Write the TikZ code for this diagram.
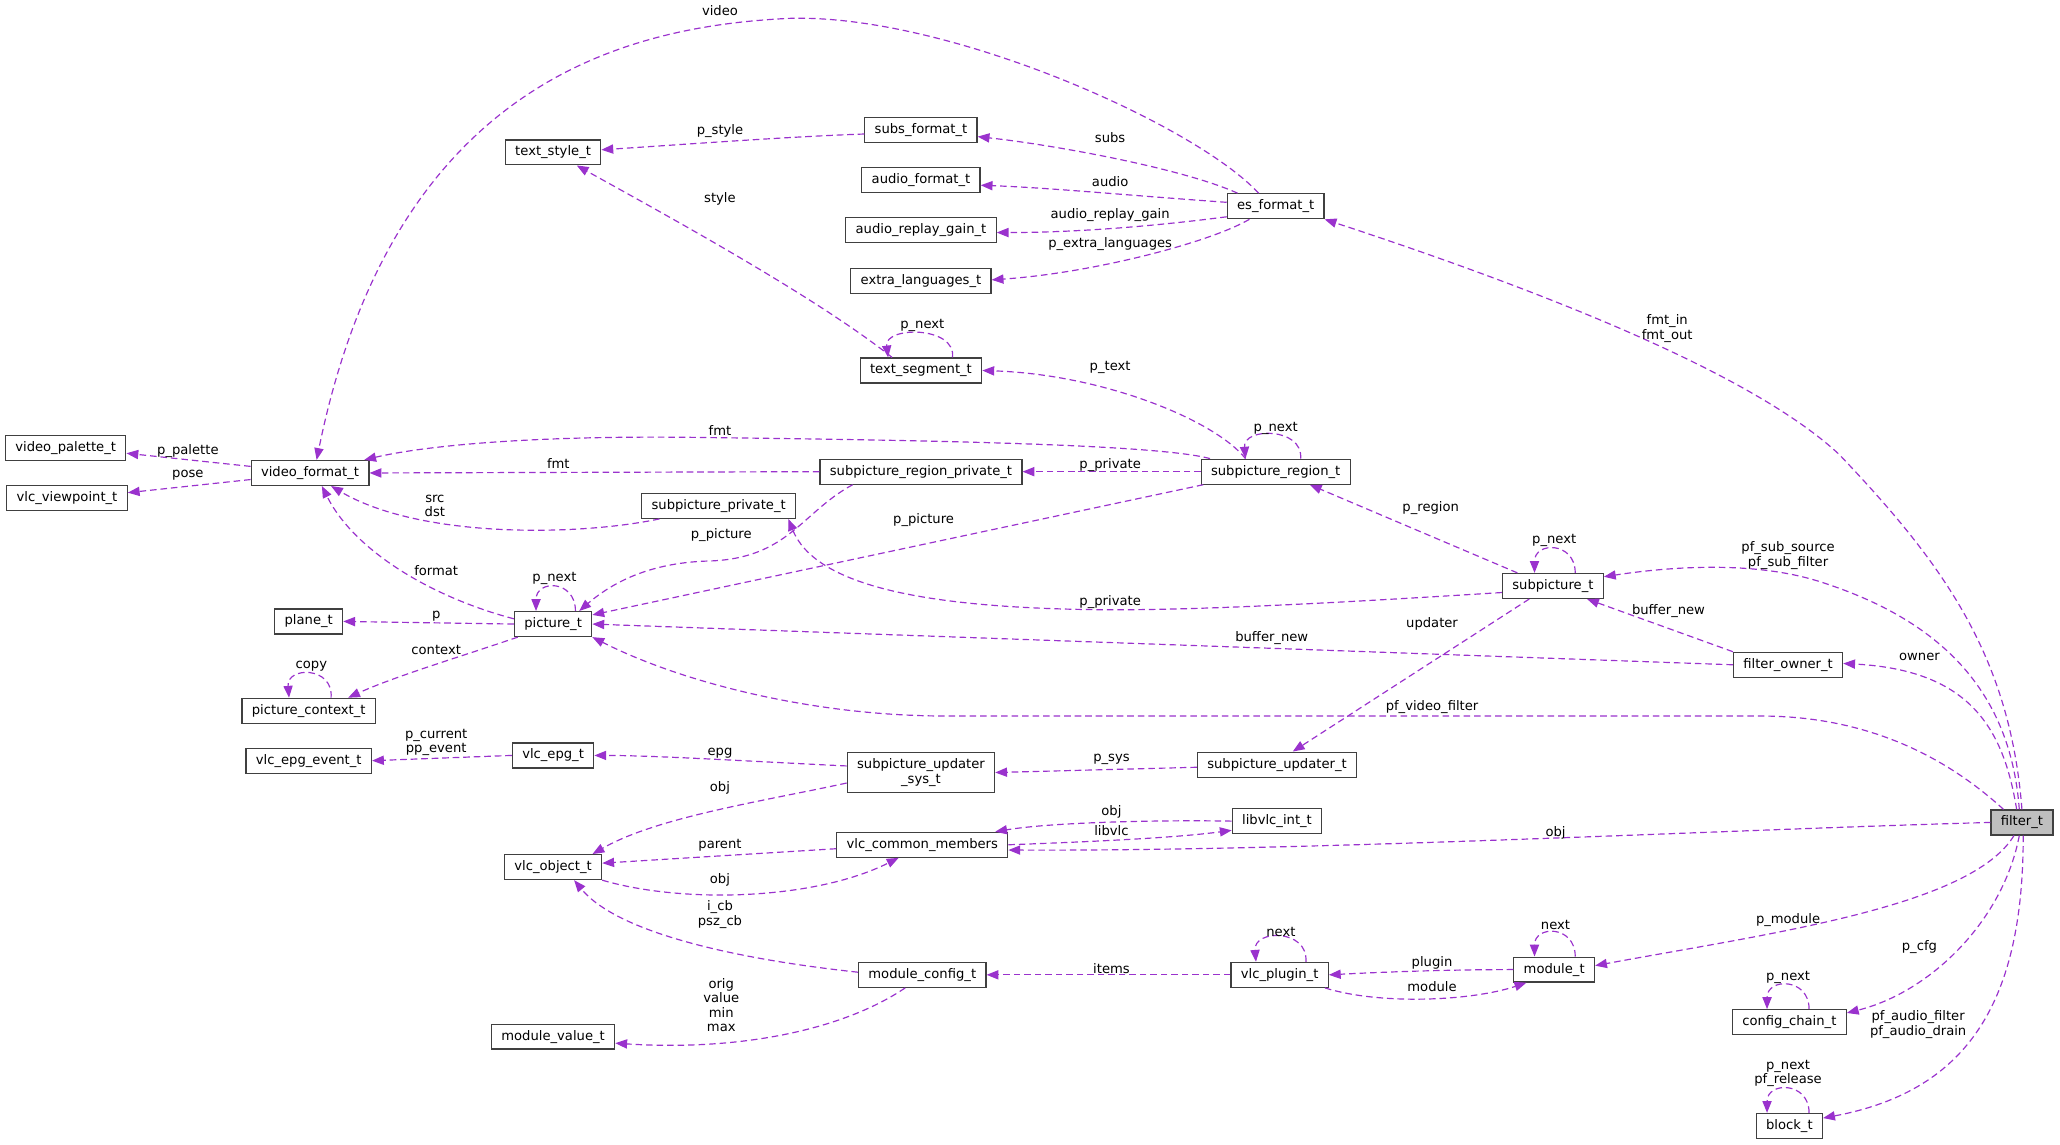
\documentclass[tikz,border=0pt]{standalone}
\usepackage{fontspec}
\setmainfont{DejaVu Sans}
\usetikzlibrary{arrows.meta}
\definecolor{orchid}{HTML}{9A32CD}
\definecolor{boxline}{HTML}{404040}
\definecolor{boxfill}{HTML}{BFBFBF}

\begin{document}
\begin{tikzpicture}[x=1pt,y=-1pt,
  struct/.style={draw=boxline,line width=0.9pt,fill=white,inner xsep=7.5pt,inner ysep=0pt,minimum height=19pt,font=\fontsize{10}{11}\selectfont},
  memberref/.style={draw=orchid,line width=0.9pt,dash pattern=on 5pt off 3pt,-{Triangle[length=9pt,width=7pt]}},
  lbl/.style={inner sep=0pt,align=center,font=\fontsize{10}{11}\selectfont}]
%set diagram left start at 0, and has height of 871
\useasboundingbox (0,0) rectangle (1568,871);

% Nodes
\node [struct] (videopal) at (50,341) {video\_palette\_t};
\node [struct] (viewpoint) at (51,379) {vlc\_viewpoint\_t};
\node [struct] (videofmt) at (236,360) {video\_format\_t};
\node [struct] (textstyle) at (421,116) {text\_style\_t};
\node [struct] (subsfmt) at (701,99) {subs\_format\_t};
\node [struct] (audiofmt) at (701,137) {audio\_format\_t};
\node [struct] (replaygain) at (701,175) {audio\_replay\_gain\_t};
\node [struct] (extralang) at (701,214) {extra\_languages\_t};
\node [struct] (esfmt) at (971,157) {es\_format\_t};
\node [struct] (textseg) at (701,282) {text\_segment\_t};
\node [struct] (spuregion) at (971,359) {subpicture\_region\_t};
\node [struct] (spuregionpriv) at (701,359) {subpicture\_region\_private\_t};
\node [struct] (spupriv) at (547,385) {subpicture\_private\_t};
\node [struct] (picture) at (421,475) {picture\_t};
\node [struct] (plane) at (235,473) {plane\_t};
\node [struct] (picctx) at (235,541) {picture\_context\_t};
\node [struct] (spu) at (1182,446) {subpicture\_t};
\node [struct] (filterowner) at (1361,506) {filter\_owner\_t};
\node [struct,fill=boxfill] (filter) at (1539,626) {filter\_t};
\node [struct,align=center,minimum height=30pt] (updatersys) at (701,588) {subpicture\_updater\\\_sys\_t};
\node [struct] (updater) at (972,582) {subpicture\_updater\_t};
\node [struct] (epg) at (421,575) {vlc\_epg\_t};
\node [struct] (epgevent) at (235,579) {vlc\_epg\_event\_t};
\node [struct] (object) at (421,660) {vlc\_object\_t};
\node [struct] (common) at (702,643) {vlc\_common\_members};
\node [struct] (libvlc) at (972,625) {libvlc\_int\_t};
\node [struct] (modcfg) at (702,742) {module\_config\_t};
\node [struct] (modval) at (421,789) {module\_value\_t};
\node [struct] (plugin) at (974,742) {vlc\_plugin\_t};
\node [struct] (module) at (1183,738) {module\_t};
\node [struct] (cfgchain) at (1362,778) {config\_chain\_t};
\node [struct] (block) at (1362,857) {block\_t};

%Curve Lines: es_format_t members
\draw [memberref] ([xshift=-13pt]esfmt.north) .. controls (910,95) and (720,10) .. (600,14) .. controls (480,20) and (300,60) .. ([xshift=5pt]videofmt.north);
\draw [memberref] ([xshift=-29pt]esfmt.north) .. controls (900,128) and (800,110) .. ([yshift=-5pt]subsfmt.east);
\draw [memberref] ([yshift=3pt]esfmt.west) .. controls (850,148) and (800,143) .. ([yshift=-4pt]audiofmt.east);
\draw [memberref] ([yshift=-8pt]esfmt.west) .. controls (880,172) and (820,177) .. ([yshift=-2pt]replaygain.east);
\draw [memberref] ([xshift=-20pt]esfmt.south) .. controls (920,185) and (830,208) .. ([yshift=1pt]extralang.east);
%Curve Lines: text styles
\draw [memberref] ([yshift=-3pt]subsfmt.west) .. controls (600,104) and (520,110) .. ([yshift=2pt]textstyle.east);
\draw [memberref] ([xshift=-22pt]textseg.north) .. controls (620,225) and (500,160) .. ([xshift=18pt]textstyle.south);
\draw [memberref] ([xshift=24pt]textseg.north) .. controls +(3,-24) and +(-3,-24) .. ([xshift=-25pt]textseg.north);
%Curve Lines: subpicture_region_t members
\draw [memberref] ([xshift=-23pt]spuregion.north) .. controls (925,320) and (840,285) .. (textseg.east);
\draw [memberref] ([xshift=19pt]spuregion.north) .. controls +(2,-24) and +(-2,-24) .. ([xshift=-23pt]spuregion.north);
\draw [memberref] ([xshift=-50pt]spuregion.north) .. controls (880,338) and (700,335) .. (535,333) .. controls (400,331) and (320,340) .. ([xshift=-4pt]videofmt.north east);
\draw [memberref] (spuregion.west) -- (spuregionpriv.east);
\draw [memberref] ([xshift=2pt]spuregion.south west) -- ([yshift=-3pt]picture.north east);
%Straight Lines: subpicture_region_private_t members
\draw [memberref] (spuregionpriv.west) -- (videofmt.east);
\draw [memberref] ([xshift=-52pt]spuregionpriv.south) .. controls (610,390) and (600,425) .. (540,427) .. controls (500,428) and (470,440) .. ([xshift=-10pt]picture.north east);
%Curve Lines: subpicture_private_t
\draw [memberref] ([xshift=-45pt]spupriv.south) .. controls (440,408) and (320,410) .. ([xshift=16pt]videofmt.south);
%Curve Lines: picture_t members
\draw [memberref] ([yshift=4pt]picture.west) .. controls (330,455) and (270,420) .. ([xshift=9pt]videofmt.south);
\draw [memberref] ([xshift=17pt]picture.north) .. controls +(0,-24) and +(0,-24) .. ([xshift=-13pt]picture.north);
\draw [memberref] (picture.west) -- (plane.east);
\draw [memberref] ([xshift=3pt]picture.south west) .. controls (350,500) and (300,515) .. ([xshift=30pt]picctx.north);
\draw [memberref] ([xshift=17pt]picctx.north) .. controls +(2,-24) and +(-2,-24) .. ([xshift=-15pt]picctx.north);
%Curve Lines: video_format_t members
\draw [memberref] ([yshift=5pt]videofmt.west) -- ([yshift=-4pt]videopal.east);
\draw [memberref] ([yshift=-5pt]videofmt.west) -- ([yshift=4pt]viewpoint.east);
%Curve Lines: subpicture_t members
\draw [memberref] ([xshift=-27pt]spu.north) -- ([xshift=26pt]spuregion.south);
\draw [memberref] ([xshift=17pt]spu.north) .. controls +(0,-24) and +(0,-24) .. ([xshift=-14pt]spu.north);
\draw [memberref] ([yshift=-5pt]spu.west) .. controls (1000,460) and (900,465) .. (830,464) .. controls (700,462) and (620,445) .. ([xshift=53pt]spupriv.south);
\draw [memberref] ([xshift=-18pt]spu.south) -- ([xshift=12pt]updater.north);
%Straight Lines: filter_owner_t members
\draw [memberref] (filterowner.north west) -- ([xshift=26pt]spu.south);
\draw [memberref] (filterowner.west) -- (picture.east);
%Curve Lines: filter_t members
\draw [memberref] ([xshift=-4pt]filter.north) .. controls (1525,555) and (1500,510) .. ([yshift=1pt]filterowner.east);
\draw [memberref] ([xshift=-2pt]filter.north) .. controls (1530,520) and (1470,470) .. (1386,443) .. controls (1340,428) and (1280,430) .. ([yshift=7pt]spu.east);
\draw [memberref] (filter.north) .. controls (1530,500) and (1480,430) .. (1400,346) .. controls (1340,290) and (1200,230) .. (esfmt.south east);
\draw [memberref] ([xshift=-14pt]filter.north) .. controls (1480,575) and (1420,545) .. (1340,545) -- (720,545) .. controls (620,545) and (520,520) .. (picture.south east);
\draw [memberref] (filter.west) .. controls (1300,632) and (1000,648) .. ([yshift=-4pt]common.east);
\draw [memberref] ([xshift=-6pt]filter.south) .. controls (1500,690) and (1350,710) .. ([yshift=3pt]module.east);
\draw [memberref] ([xshift=-2pt]filter.south) .. controls (1525,700) and (1470,755) .. ([yshift=7pt]cfgchain.east);
\draw [memberref] ([xshift=1pt]filter.south) .. controls (1540,760) and (1500,830) .. ([yshift=6pt]block.east);
%Curve Lines: updater
\draw [memberref] ([yshift=-2pt]updater.west) -- (updatersys.east);
\draw [memberref] ([yshift=5pt]updatersys.west) .. controls (580,580) and (500,575) .. (epg.east);
\draw [memberref] (epg.west) -- (epgevent.east);
\draw [memberref] ([yshift=-8pt]updatersys.west) .. controls (580,610) and (500,622) .. ([xshift=30pt]object.north);
%Curve Lines: objects
\draw [memberref] ([yshift=-3pt]common.west) -- ([yshift=3pt]object.east);
\draw [memberref] (object.south east) .. controls (520,688) and (620,685) .. ([xshift=-18pt]common.south);
\draw [memberref] (libvlc.west) .. controls (880,624) and (800,626) .. ([xshift=-10pt]common.north east);
\draw [memberref] (common.east) .. controls (850,640) and (900,637) .. ([yshift=-7pt]libvlc.west);
%Curve Lines: modules
\draw [memberref] ([yshift=2pt]modcfg.west) .. controls (560,730) and (470,710) .. ([xshift=16pt]object.south);
\draw [memberref] ([xshift=-13pt]modcfg.south) .. controls (640,785) and (560,800) .. ([yshift=-5pt]modval.east);
\draw [memberref] (plugin.west) -- (modcfg.east);
\draw [memberref] ([xshift=20pt]plugin.north) .. controls +(2,-25) and +(-2,-25) .. ([xshift=-18pt]plugin.north);
\draw [memberref] (module.west) .. controls (1100,738) and (1050,740) .. (plugin.east);
\draw [memberref] ([xshift=-3pt]plugin.south east) .. controls (1050,765) and (1120,762) .. ([xshift=10pt]module.south west);
\draw [memberref] ([xshift=16pt]module.north) .. controls +(0,-24) and +(0,-24) .. ([xshift=-15pt]module.north);
\draw [memberref] ([xshift=15pt]cfgchain.north) .. controls +(0,-24) and +(0,-24) .. ([xshift=-17pt]cfgchain.north);
\draw [memberref] ([xshift=15pt]block.north) .. controls +(0,-24) and +(0,-24) .. ([xshift=-17pt]block.north);

% Text Node
\node [lbl] (lvideo) at (548,8) {video};
\node [lbl] (lpstyle) at (548,100) {p\_style};
\node [lbl] (lstyle) at (548,151) {style};
\node [lbl] (lsubs) at (845,105) {subs};
\node [lbl] (laudio) at (845,138) {audio};
\node [lbl] (lgain) at (845,164) {audio\_replay\_gain};
\node [lbl] (lextra) at (845,186) {p\_extra\_languages};
\node [lbl] (ltsnext) at (702,248) {p\_next};
\node [lbl] (lptext) at (845,280) {p\_text};
\node [lbl] (lregnext) at (971,326) {p\_next};
\node [lbl] (lregfmt) at (548,328) {fmt};
\node [lbl] (lprivfmt) at (425,353) {fmt};
\node [lbl] (lregpriv) at (845,354) {p\_private};
\node [lbl] (lsrcdst) at (331,385) {src\\dst};
\node [lbl] (lformat) at (332,434) {format};
\node [lbl] (lprivpic) at (549,407) {p\_picture};
\node [lbl] (lregpic) at (703,396) {p\_picture};
\node [lbl] (lpicnext) at (422,440) {p\_next};
\node [lbl] (lp) at (332,469) {p};
\node [lbl] (lcontext) at (332,495) {context};
\node [lbl] (lcopy) at (237,507) {copy};
\node [lbl] (lregion) at (1089,387) {p\_region};
\node [lbl] (lspunext) at (1183,411) {p\_next};
\node [lbl] (lspupriv) at (845,458) {p\_private};
\node [lbl] (lupdater) at (1090,475) {updater};
\node [lbl] (lbufspu) at (1270,465) {buffer\_new};
\node [lbl] (lbufpic) at (968,486) {buffer\_new};
\node [lbl] (lowner) at (1461,500) {owner};
\node [lbl] (lsubsrc) at (1361,423) {pf\_sub\_source\\pf\_sub\_filter};
\node [lbl] (lfmtin) at (1269,250) {fmt\_in\\fmt\_out};
\node [lbl] (lvfilter) at (1090,538) {pf\_video\_filter};
\node [lbl] (lpsys) at (846,578) {p\_sys};
\node [lbl] (lepg) at (548,573) {epg};
\node [lbl] (lpcurrent) at (332,565) {p\_current\\pp\_event};
\node [lbl] (lsysobj) at (548,600) {obj};
\node [lbl] (lparent) at (548,643) {parent};
\node [lbl] (lobjobj) at (548,670) {obj};
\node [lbl] (llibobj) at (846,618) {obj};
\node [lbl] (llibvlc) at (846,632) {libvlc};
\node [lbl] (lfiltobj) at (1184,634) {obj};
\node [lbl] (licb) at (548,696) {i\_cb\\psz\_cb};
\node [lbl] (lorig) at (549,765) {orig\\value\\min\\max};
\node [lbl] (litems) at (846,737) {items};
\node [lbl] (lplugnext) at (975,709) {next};
\node [lbl] (lplugin) at (1090,733) {plugin};
\node [lbl] (lmodule) at (1090,751) {module};
\node [lbl] (lmodnext) at (1184,704) {next};
\node [lbl] (lpmodule) at (1361,700) {p\_module};
\node [lbl] (lpcfg) at (1461,721) {p\_cfg};
\node [lbl] (lcfgnext) at (1361,744) {p\_next};
\node [lbl] (laudiof) at (1460,780) {pf\_audio\_filter\\pf\_audio\_drain};
\node [lbl] (lblocknext) at (1361,817) {p\_next\\pf\_release};
\node [lbl] (lpalette) at (143,343) {p\_palette};
\node [lbl] (lpose) at (143,362) {pose};

\end{tikzpicture}
\end{document}
